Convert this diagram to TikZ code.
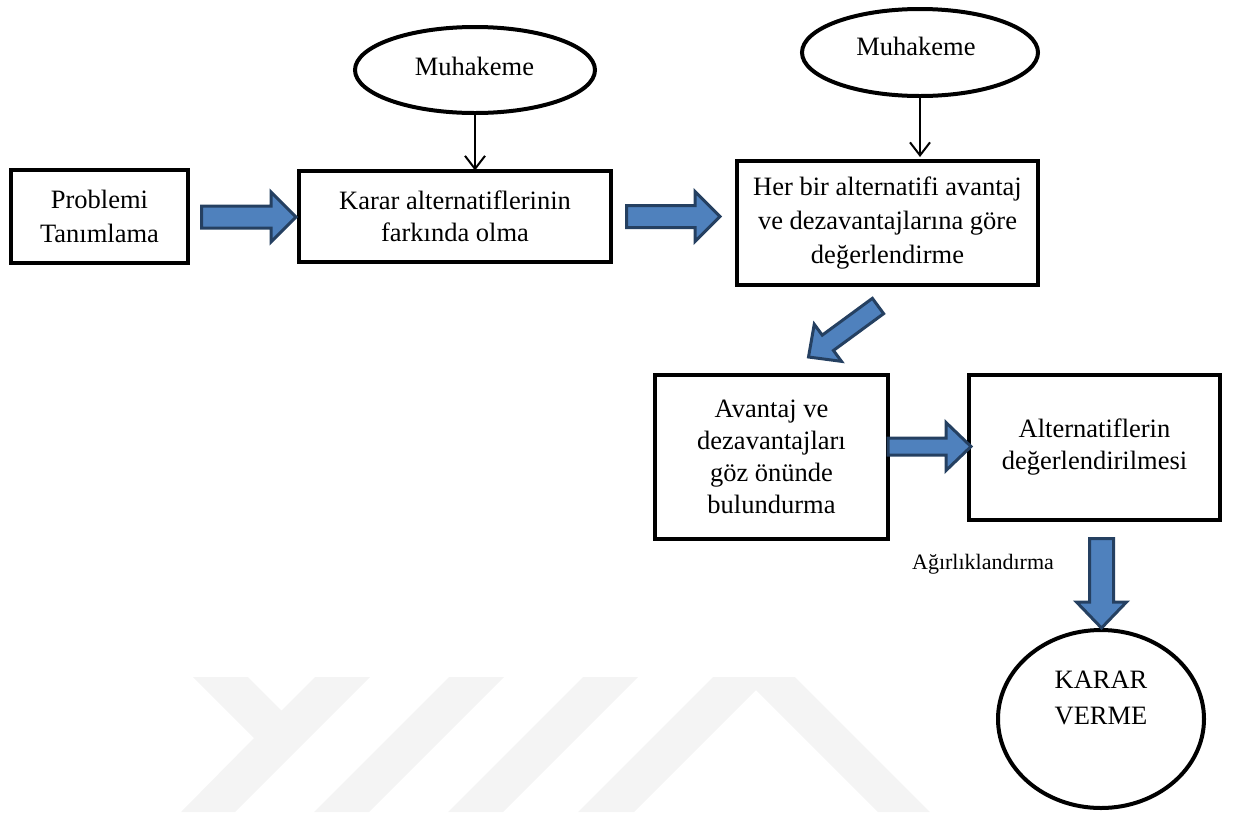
\documentclass[tikz,border=0pt]{standalone}
\usepackage{fontspec}
\setmainfont{Liberation Serif}
\usetikzlibrary{calc,arrows.meta,shapes.geometric}
\definecolor{bafill}{RGB}{79,129,189}
\definecolor{badraw}{RGB}{37,64,97}
\definecolor{wmark}{RGB}{244,244,244}
\newcommand\blockarrow[5]{% tail, tip, shaft half width, head half width, head length
  \coordinate (ba-n) at ($(#2)!#5!(#1)$);
  \draw[barrow] ($(#1)!#3!90:(#2)$) -- ($(ba-n)!#3!90:(#2)$) -- ($(ba-n)!#4!90:(#2)$) -- (#2)
    -- ($(ba-n)!#4!-90:(#2)$) -- ($(ba-n)!#3!-90:(#2)$) -- ($(#1)!#3!-90:(#2)$) -- cycle;}
\tikzset{
  box/.style={draw, line width=4pt, align=center, inner sep=0pt, outer sep=0pt,
    font=\fontsize{26.5}{32}\selectfont},
  widebox/.style={box, font=\fontsize{26.5}{34}\selectfont},
  oval/.style={draw, ellipse, line width=4pt, inner sep=0pt, outer sep=0pt},
  txt/.style={inner sep=0pt, outer sep=0pt, align=center, font=\fontsize{26.5}{36}\selectfont},
  small/.style={inner sep=0pt, outer sep=0pt, font=\fontsize{22}{26}\selectfont},
  barrow/.style={fill=bafill, draw=badraw, line width=3pt, line join=miter},
  thin/.style={line width=2pt, -{Straight Barb[length=13pt,width=20pt,line width=2pt]}},
  wm/.style={fill=wmark, draw=none}
}
\begin{document}
\begin{tikzpicture}[x=1pt, y=-1pt]
\useasboundingbox (0,0) rectangle (1237,812);
% watermark
\fill[wm] (193,677) -- (248,677) -- (281.5,710.5) -- (315,677) -- (370,677) -- (235,812) -- (181,812) -- (254,738) -- cycle;
\fill[wm] (449,677) -- (504,677) -- (369,812) -- (314,812) -- cycle;
\fill[wm] (583,677) -- (638,677) -- (503,812) -- (448,812) -- cycle;
\fill[wm] (713,677) -- (795,677) -- (930,812) -- (878,812) -- (756,690) -- (634,812) -- (578,812) -- cycle;
% boxes
\node[widebox, minimum width=177pt, minimum height=93pt] (p1) at (99.5,216.5) {Problemi\\Tanımlama};
\node[box, minimum width=312pt, minimum height=91pt] (b2) at (455,216) {Karar alternatiflerinin\\farkında olma};
\node[widebox, minimum width=301pt, minimum height=124pt] (b3) at (887.5,223) {Her bir alternatifi avantaj\\ve dezavantajlarına göre\\değerlendirme};
\node[box, minimum width=233pt, minimum height=164pt] (b4) at (771.5,457) {Avantaj ve\\dezavantajları\\göz önünde\\bulundurma};
\node[box, minimum width=251pt, minimum height=145pt] (b5) at (1094.5,447.5) {Alternatiflerin\\değerlendirilmesi};
% ovals
\node[oval, minimum width=240pt, minimum height=86pt] (m1) at (475,70) {};
\node[txt, anchor=base] (m1t) at (474.5,75) {Muhakeme};
\node[oval, minimum width=236pt, minimum height=87pt] (m2) at (920,52.5) {};
\node[txt, anchor=base] (m2t) at (916,55) {Muhakeme};
\node[oval, minimum width=206pt, minimum height=178pt] (c) at (1101,719) {};
\node[txt] (ct) at (1101,698) {KARAR\\VERME};
\node[small, anchor=base] (lab) at (983,569) {Ağırlıklandırma};
% thin arrows
\draw[thin] (m1.south) -- (m1.south |- b2.north);
\draw[thin, shorten >=4pt] (m2.south) -- (m2.south |- b3.north);
% block arrows
\coordinate (a1t) at ($(p1.east)+(13.5,0.5)$);
\coordinate (a1h) at ($(b2.west)+(-3,1)$);
\blockarrow{a1t}{a1h}{11pt}{25pt}{25pt}
\coordinate (a2t) at ($(b2.east)+(15.5,0.5)$);
\coordinate (a2h) at ($(b3.west)+(-17,-6.5)$);
\blockarrow{a2t}{a2h}{11pt}{25pt}{25pt}
\coordinate (a3t) at ($(b3.south)+(-9.5,21)$);
\coordinate (a3h) at ($(b4.north)+(37,-18)$);
\blockarrow{a3t}{a3h}{9.5pt}{23pt}{24pt}
\coordinate (a4h) at ($(b5.west)+(2,-1)$);
\coordinate (a4t) at (b4.east |- a4h);
\blockarrow{a4t}{a4h}{8.5pt}{24pt}{25pt}
\coordinate (a5t) at ($(b5.south -| c.north)+(0.5,18.5)$);
\coordinate (a5h) at ($(c.north)+(0.5,-2)$);
\blockarrow{a5t}{a5h}{12pt}{25pt}{26pt}
\end{tikzpicture}
\end{document}
